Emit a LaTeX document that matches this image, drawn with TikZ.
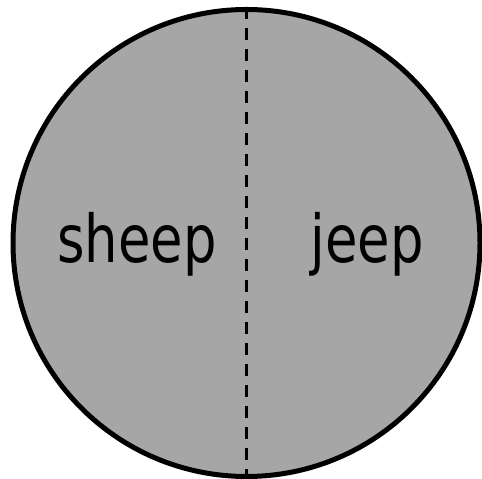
\documentclass[tikz,border=0pt]{standalone}
\usepackage{fontspec}
\setmainfont{DejaVu Sans}
\begin{document}
\begin{tikzpicture}[x=1pt,y=1pt,
  lbl/.style={inner sep=0pt, anchor=base, font=\fontsize{66}{70}\selectfont, xscale=0.8},
  divider/.style={line width=2.5pt, dash pattern=on 12pt off 9pt}]
\useasboundingbox (0,0) rectangle (482,479);
\node[circle, minimum size=467pt, inner sep=0pt, fill={rgb,255:red,166;green,166;blue,166}, draw=black, line width=5pt] (c) at (246.5,236) {};
\draw[divider] (c.north) -- (c.south);
\node[lbl] (s) at (137,216) {sheep};
\node[lbl] (j) at (367,216) {jeep};
\end{tikzpicture}
\end{document}
